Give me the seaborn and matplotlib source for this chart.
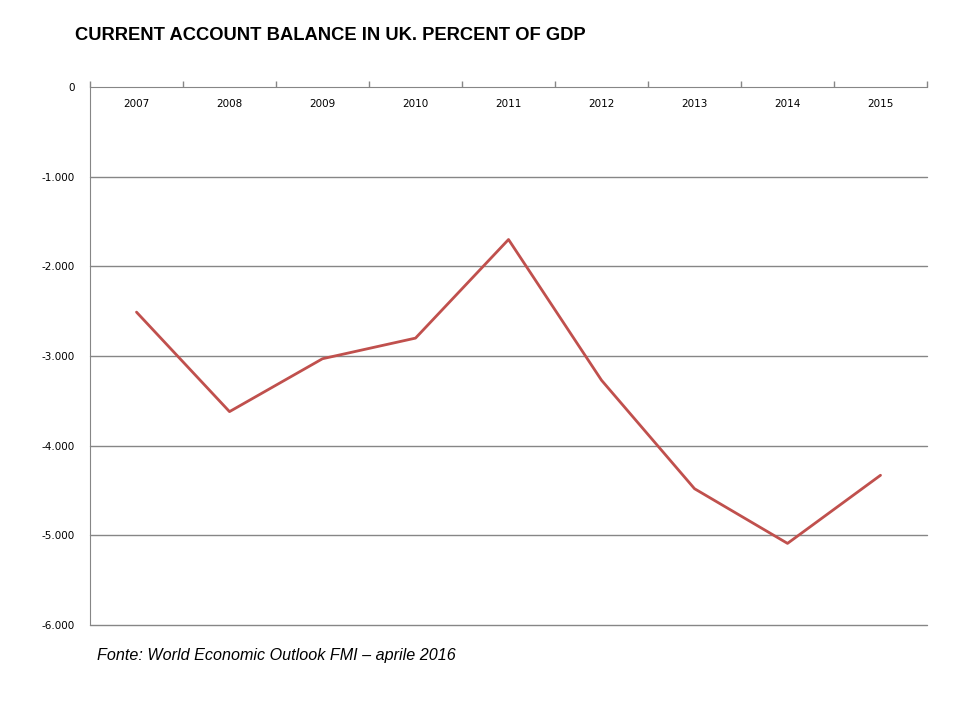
import numpy as np
import pandas as pd
import matplotlib
matplotlib.use('Agg')
import matplotlib.pyplot as plt
import seaborn as sns

# dati
years = ['2007', '2008', '2009', '2010', '2011', '2012', '2013', '2014', '2015']
balance = [-2.51, -3.62, -3.03, -2.80, -1.70, -3.27, -4.48, -5.09, -4.33]
y_ticks = [0, -1, -2, -3, -4, -5, -6]
y_labels = ['0', '-1.000', '-2.000', '-3.000', '-4.000', '-5.000', '-6.000']

df = pd.DataFrame({'pos': np.arange(len(years)), 'year': years, 'balance': balance})

sns.set_style('white')
plt.rcParams['font.family'] = ['DejaVu Sans']
plt.rcParams['text.color'] = 'black'
plt.rcParams['xtick.labelcolor'] = 'black'
plt.rcParams['ytick.labelcolor'] = 'black'

fig = plt.figure(figsize=(9.6, 7.2), dpi=100)
ax = fig.add_axes([0.09375, 0.132, 0.8719, 0.747])

sns.lineplot(data=df, x='pos', y='balance', color='#C0504D', linewidth=2.0, ax=ax)

grey = '#868686'
ax.set_xlim(-0.5, len(years) - 0.5)
ax.set_ylim(-6, 0)
ax.set_yticks(y_ticks)
ax.set_yticklabels(y_labels)
for v in y_ticks[1:]:
    ax.axhline(v, color=grey, linewidth=1.0, zorder=0, clip_on=False)

# asse x in alto, etichette sotto la linea dello zero
ax.xaxis.set_ticks_position('top')
ax.set_xticks(df['pos'])
ax.set_xticklabels(years)
ax.set_xticks(np.arange(len(years) + 1) - 0.5, minor=True)
ax.tick_params(axis='x', which='major', length=0, labeltop=True, labelbottom=False,
               pad=-16, labelsize=7.5)
ax.tick_params(axis='x', which='minor', length=4, color=grey, direction='out', width=1)
ax.tick_params(axis='y', length=5, color=grey, width=1, labelsize=7.5, pad=6)

for s in ['right', 'bottom']:
    ax.spines[s].set_visible(False)
ax.spines['top'].set_color(grey)
ax.spines['left'].set_color(grey)
ax.set_xlabel('')
ax.set_ylabel('')

fig.text(0.078, 0.951, 'CURRENT ACCOUNT BALANCE IN UK. PERCENT OF GDP',
         fontsize=13.2, fontweight='bold', family='Liberation Sans', va='center',
         color='black')
fig.text(0.101, 0.089, 'Fonte: World Economic Outlook FMI \u2013 aprile 2016',
         fontsize=11.6, style='italic', family='Liberation Sans', va='center',
         color='black')

fig.savefig('out.png', dpi=100)
